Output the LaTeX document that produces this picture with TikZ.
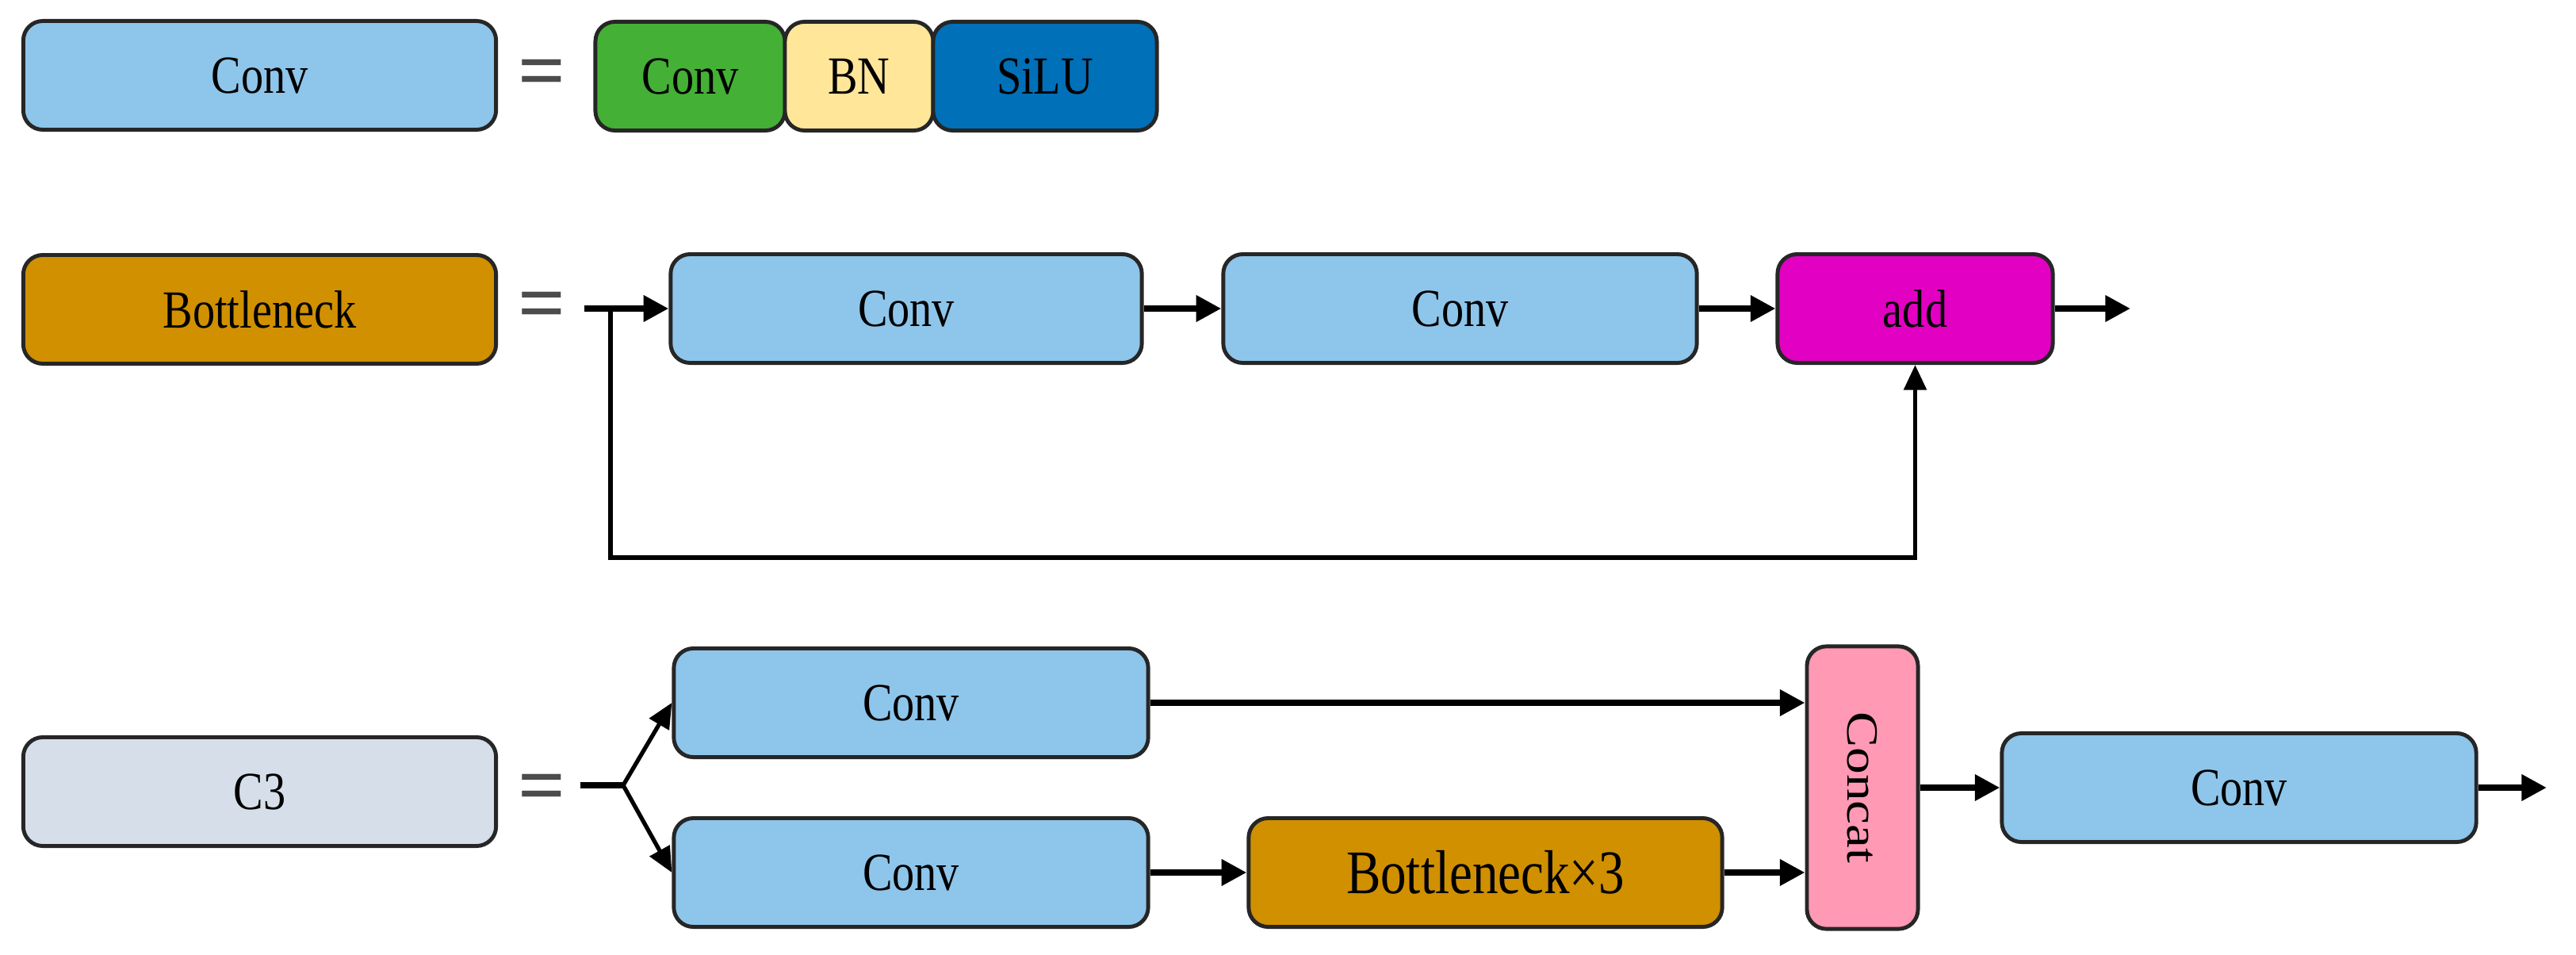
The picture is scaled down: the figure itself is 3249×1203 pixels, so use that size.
\documentclass[tikz,border=0pt]{standalone}
\usepackage{fontspec}
\setmainfont{Liberation Serif}
\usetikzlibrary{arrows.meta}
\definecolor{convblue}{RGB}{142,197,234}
\definecolor{convgreen}{RGB}{68,176,53}
\definecolor{bnyellow}{RGB}{255,230,153}
\definecolor{silublue}{RGB}{0,112,184}
\definecolor{bottleorange}{RGB}{208,144,0}
\definecolor{addmag}{RGB}{226,0,194}
\definecolor{cthree}{RGB}{214,223,233}
\definecolor{concatpink}{RGB}{255,153,180}
\newcommand\vstr[1]{\scalebox{1}[1.2]{#1}}
\begin{document}
\begin{tikzpicture}[x=0.01cm,y=-0.01cm,
  blk/.style={draw=black!85, line width=1.4pt, rounded corners=7pt, inner sep=0pt,
    minimum height=1.37cm, minimum width=5.96cm, font=\fontsize{16}{18}\selectfont},
  eqsign/.style={font=\fontsize{30}{30}\selectfont\bfseries, text=black!70, inner sep=0pt},
  arr/.style={line width=2.3pt, -{Triangle[length=9pt,width=9pt]}},
  thinarr/.style={line width=1.5pt, -{Triangle[length=9pt,width=8pt]}},
  thinline/.style={line width=1.5pt}]
\useasboundingbox (0,0) rectangle (3249,1203);

% Row 1
\node[blk, fill=convblue] (conv0) at (327.5,95) {\vstr{Conv}};
\node[eqsign] (eq1) at (684,100) {=};
\node[blk, fill=convgreen, minimum width=2.39cm] (cg) at (870.5,96) {\vstr{Conv}};
\node[blk, fill=bnyellow, minimum width=1.87cm] (bn) at (1083.5,96) {\vstr{BN}};
\node[blk, fill=silublue, minimum width=2.82cm] (silu) at (1318,96) {\vstr{SiLU}};

% Row 2
\node[blk, fill=bottleorange] (bneck) at (327.5,390) {\vstr{Bottleneck}};
\node[eqsign] (eq2) at (684,393) {=};
\node[blk, fill=convblue, minimum width=5.94cm] (conv1) at (1143,389) {\vstr{Conv}};
\node[blk, fill=convblue, minimum width=5.97cm] (conv2) at (1841.5,389) {\vstr{Conv}};
\node[blk, fill=addmag, minimum width=3.47cm] (add) at (2415.5,389) {\vstr{add}};
\coordinate (bs) at (737,389);
\coordinate (bj) at (770,389);
\coordinate (bl) at (770,703);
\coordinate (bout) at (2687,389);
\draw[arr] (bs) -- (conv1.west);
\draw[arr] (conv1.east) -- (conv2.west);
\draw[arr] (conv2.east) -- (add.west);
\draw[arr] (add.east) -- (bout);
\draw[thinarr] (bj) -- (bl) -| (add.south);

% Row 3
\node[blk, fill=cthree] (c3) at (327.5,998) {\vstr{C3}};
\node[eqsign] (eq3) at (684,1001) {=};
\node[blk, fill=convblue, minimum width=5.98cm] (convA) at (1149,886) {\vstr{Conv}};
\node[blk, fill=convblue, minimum width=5.98cm] (convB) at (1149,1100) {\vstr{Conv}};
\node[blk, fill=bottleorange, minimum width=5.97cm, font=\fontsize{18.5}{20}\selectfont] (b3) at (1873.5,1100) {\vstr{Bottleneck×3}};
\node[blk, fill=concatpink, minimum width=1.4cm, minimum height=3.56cm] (concat) at (2349,993) {\rotatebox{-90}{\scalebox{1.2}[1]{Concat}}};
\node[blk, fill=convblue, minimum width=5.98cm] (convF) at (2824,993) {\vstr{Conv}};
\coordinate (fs) at (732,990);
\coordinate (fj) at (786,990);
\coordinate (fout) at (3212,993);
\draw[line width=2.3pt] (fs) -- (fj);
\draw[thinarr] (fj) -- (convA.west);
\draw[thinarr] (fj) -- (convB.west);
\draw[arr] (convA.east) -- (convA.east -| concat.west);
\draw[arr] (convB.east) -- (b3.west);
\draw[arr] (b3.east) -- (b3.east -| concat.west);
\draw[arr] (concat.east) -- (convF.west);
\draw[arr] (convF.east) -- (fout);
\end{tikzpicture}
\end{document}
